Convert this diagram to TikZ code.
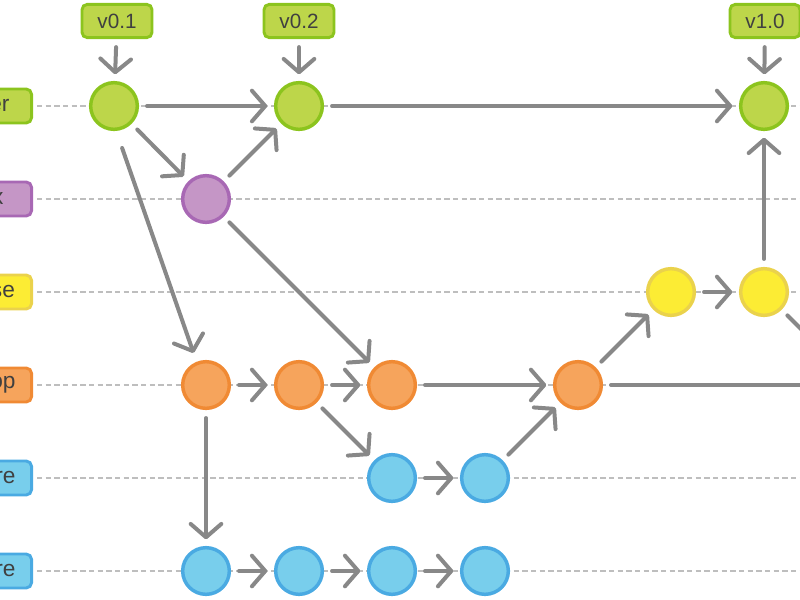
\documentclass[tikz,border=0pt]{standalone}
\usepackage{fontspec}
\setmainfont{Liberation Sans}
\usetikzlibrary{arrows.meta}
% palette
\definecolor{masterfill}{RGB}{189,214,74}
\definecolor{masterline}{RGB}{140,196,30}
\definecolor{hotfixfill}{RGB}{197,150,198}
\definecolor{hotfixline}{RGB}{168,104,180}
\definecolor{releasefill}{RGB}{252,236,52}
\definecolor{releaseline}{RGB}{234,210,76}
\definecolor{developfill}{RGB}{246,164,92}
\definecolor{developline}{RGB}{240,138,52}
\definecolor{featurefill}{RGB}{120,206,236}
\definecolor{featureline}{RGB}{74,170,226}
\definecolor{flowgray}{RGB}{136,136,136}
\definecolor{lanegray}{RGB}{190,190,190}
\definecolor{labeltext}{RGB}{64,64,64}
\tikzset{
  commit/.style={circle, minimum size=35pt, inner sep=0pt, line width=2.6pt},
  master/.style={commit, draw=masterline, fill=masterfill},
  hotfix/.style={commit, draw=hotfixline, fill=hotfixfill},
  release/.style={commit, draw=releaseline, fill=releasefill},
  develop/.style={commit, draw=developline, fill=developfill},
  feature/.style={commit, draw=featureline, fill=featurefill},
  tag/.style={draw=masterline, fill=masterfill, rounded corners=4pt, line width=2.2pt,
    minimum width=52.5pt, minimum height=25pt, inner sep=0pt, text=labeltext,
    font=\fontsize{15.5}{15.5}\selectfont},
  branch/.style={anchor=east, rounded corners=4pt, line width=2.2pt, text=labeltext,
    text width=60pt, align=right, inner xsep=#1, minimum height=25.5pt,
    font=\fontsize{17}{17}\selectfont},
  flow/.style={draw=flowgray, line width=3pt, line cap=round,
    -{Straight Barb[round, length=10pt, width=23pt]},
    shorten <=6pt, shorten >=5pt},
  lane/.style={draw=lanegray, line width=0.8pt, dash pattern=on 4pt off 2.5pt}
}
\begin{document}
\begin{tikzpicture}[x=0.75pt, y=-0.75pt]
  \clip (0,0) rectangle (800,600);
  \coordinate (edge) at (800,0);
  % branch labels, cut off by the left edge
  \node[branch=16.5pt, draw=masterline, fill=masterfill]   (bm) at (33,106) {er};
  \node[branch=21pt,   draw=hotfixline, fill=hotfixfill]   (bh) at (33,199) {x};
  \node[branch=12.5pt, draw=releaseline, fill=releasefill] (br) at (33,292) {se};
  \node[branch=12pt,   draw=developline, fill=developfill] (bd) at (33,385) {op};
  \node[branch=12pt,   draw=featureline, fill=featurefill] (bf) at (33,478) {re};
  \node[branch=12pt,   draw=featureline, fill=featurefill] (bg) at (33,571) {re};
  \foreach \b in {bm,bh,br,bd,bf,bg}
    \draw[lane] ([xshift=3pt]\b.east) -- (\b.east -| edge);
  % commits
  \node[master] (m1) at (114,106) {};
  \node[master] (m2) at (299,106) {};
  \node[master] (m3) at (764,106) {};
  \node[hotfix] (h1) at (206,199) {};
  \node[release] (r1) at (671,292) {};
  \node[release] (r2) at (764,292) {};
  \node[develop] (d1) at (206,385) {};
  \node[develop] (d2) at (299,385) {};
  \node[develop] (d3) at (392,385) {};
  \node[develop] (d4) at (578,385) {};
  \coordinate (dn) at (857,385);
  \node[feature] (f1) at (392,478) {};
  \node[feature] (f2) at (485,478) {};
  \node[feature] (g1) at (206,571) {};
  \node[feature] (g2) at (299,571) {};
  \node[feature] (g3) at (392,571) {};
  \node[feature] (g4) at (485,571) {};
  % tags
  \node[tag] (t1) at (117,21) {v0.1};
  \node[tag] (t2) at (299,21) {v0.2};
  \node[tag] (t3) at (765,21) {v1.0};
  \draw[flow] (t1) -- (m1);
  \draw[flow] (t2) -- (m2);
  \draw[flow] (t3) -- (m3);
  % history
  \draw[flow] (m1) -- (m2);
  \draw[flow] (m2) -- (m3);
  \draw[flow] (m1) -- (h1);
  \draw[flow] (h1) -- (m2);
  \draw[flow, shorten <=13.5pt, shorten >=7pt] (m1.-85) -- (d1.112);
  \draw[flow] (h1) -- (d3);
  \draw[flow] (d1) -- (d2);
  \draw[flow] (d2) -- (d3);
  \draw[flow] (d3) -- (d4);
  \draw[flow] (d2) -- (f1);
  \draw[flow] (f1) -- (f2);
  \draw[flow] (f2) -- (d4);
  \draw[flow] (d1) -- (g1);
  \draw[flow] (g1) -- (g2);
  \draw[flow] (g2) -- (g3);
  \draw[flow] (g3) -- (g4);
  \draw[flow] (d4) -- (r1);
  \draw[flow] (r1) -- (r2);
  \draw[flow] (r2) -- (m3);
  \draw[flow] (r2) -- (dn);
  \draw[flow] (d4) -- (dn);
\end{tikzpicture}
\end{document}
